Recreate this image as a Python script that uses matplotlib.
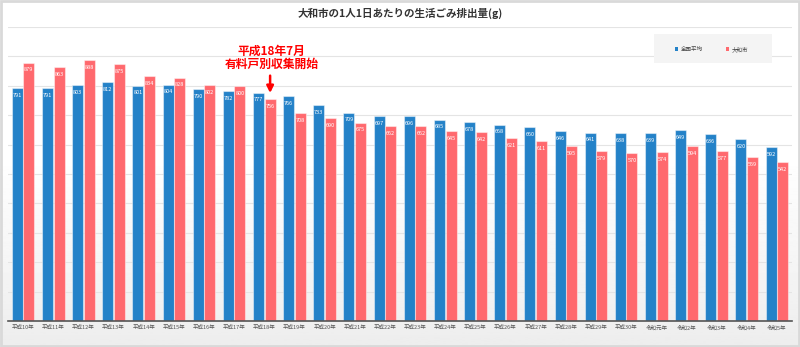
import numpy as np
import matplotlib
matplotlib.use("Agg")
import matplotlib.pyplot as plt
from matplotlib.patches import Rectangle

plt.rcParams['font.family'] = ['Noto Sans CJK JP', 'DejaVu Sans']

# data
years = ['平成10年', '平成11年', '平成12年', '平成13年', '平成14年', '平成15年', '平成16年',
         '平成17年', '平成18年', '平成19年', '平成20年', '平成21年', '平成22年', '平成23年',
         '平成24年', '平成25年', '平成26年', '平成27年', '平成28年', '平成29年', '平成30年',
         '令和元年', '令和2年', '令和3年', '令和4年', '令和5年']
national = [791, 791, 803, 812, 801, 804, 790, 782, 777, 766, 733, 709, 697, 696, 685,
            678, 668, 660, 646, 641, 638, 639, 649, 636, 620, 592]
yamato = [879, 863, 888, 875, 834, 828, 802, 800, 756, 708, 690, 675, 662, 662, 645,
          642, 621, 611, 595, 579, 570, 574, 594, 577, 559, 542]

blue = '#2482c8'
red = '#ff696e'

fig = plt.figure(figsize=(8, 3.47), dpi=100)

# background: white fading to light grey at the bottom
bg = fig.add_axes([0, 0, 1, 1], zorder=-10)
grad = np.linspace(0, 1, 256)[:, None]
grad = np.clip((grad - 0.45) / 0.55, 0, 1)
bg.imshow(1 - 0.07 * grad[::-1], cmap='gray', vmin=0, vmax=1, aspect='auto',
          extent=[0, 1, 0, 1], origin='lower')
bg.set_xlim(0, 1)
bg.set_ylim(0, 1)
bg.axis('off')
bg.add_patch(Rectangle((0.001, 0.002), 0.998, 0.996, fill=False, edgecolor='#d9d9d9',
                       lw=2, transform=bg.transAxes))

ax = fig.add_axes([0.01, 1 - 321 / 347, 0.98, 294 / 347])
ax.patch.set_alpha(0)

x = np.arange(len(years))
w = 0.365
b1 = ax.bar(x - w / 2 - 0.01, national, w, color=blue, edgecolor=(1, 1, 1, 0.45), lw=0.8, zorder=3)
b2 = ax.bar(x + w / 2 + 0.01, yamato, w, color=red, edgecolor=(1, 1, 1, 0.45), lw=0.8, zorder=3)

for bars in (b1, b2):
    for r in bars:
        ax.annotate(f'{int(r.get_height())}', (r.get_x() + r.get_width() / 2, r.get_height()),
                    xytext=(0, -3.5), textcoords='offset points', ha='center', va='top',
                    fontsize=4, color='white', zorder=4)

ax.set_xlim(-0.5, len(years) - 0.5)
ax.set_ylim(0, 1000)
ax.set_yticks(range(100, 1001, 100))
ax.grid(axis='y', color='#e4e4e4', lw=0.8, zorder=0)
ax.set_yticklabels([])
ax.tick_params(axis='y', length=0)
ax.set_xticks(x)
ax.set_xticklabels(years, fontsize=4, color='#555555')
ax.tick_params(axis='x', length=0, pad=3)
for s in ('top', 'right', 'left'):
    ax.spines[s].set_visible(False)
ax.spines['bottom'].set_color('#555555')
ax.spines['bottom'].set_linewidth(1.2)
ax.spines['bottom'].set_zorder(5)

# title
fig.text(0.5, 1 - 13 / 347, '大和市の1人1日あたりの生活ごみ排出量(g)', ha='center', va='center',
         fontsize=7.6, fontweight='bold', color='#333333')

# legend box
fig.patches.append(Rectangle((654 / 800, 1 - 63 / 347), 118 / 800, 29 / 347,
                             transform=fig.transFigure, facecolor='#f4f4f4', edgecolor='none'))
ly = 1 - 49 / 347
fig.patches.append(Rectangle((675 / 800, ly - 1.5 / 347), 3 / 800, 3 / 347,
                             transform=fig.transFigure, facecolor=blue, edgecolor='none'))
fig.text(681 / 800, ly, '全国平均', fontsize=4, va='center', color='#444444')
fig.patches.append(Rectangle((726 / 800, ly - 1.5 / 347), 3 / 800, 3 / 347,
                             transform=fig.transFigure, facecolor=red, edgecolor='none'))
fig.text(732 / 800, ly, '大和市', fontsize=4, va='center', color='#444444')

# annotation for 平成18年
i = years.index('平成18年')
ax.annotate('', xy=(i + w / 2 + 0.01, yamato[i] + 10), xytext=(i + w / 2 + 0.01, yamato[i] + 88),
            arrowprops=dict(arrowstyle='-|>', color='#ff0000', lw=1.8, mutation_scale=10),
            zorder=6)
ax.text(i + 0.25, yamato[i] + 95, '平成18年7月\n有料戸別収集開始', ha='center', va='bottom',
        fontsize=8.5, fontweight='bold', color='#ff0000', linespacing=1.0, zorder=6)

fig.savefig('out.png', dpi=100)
